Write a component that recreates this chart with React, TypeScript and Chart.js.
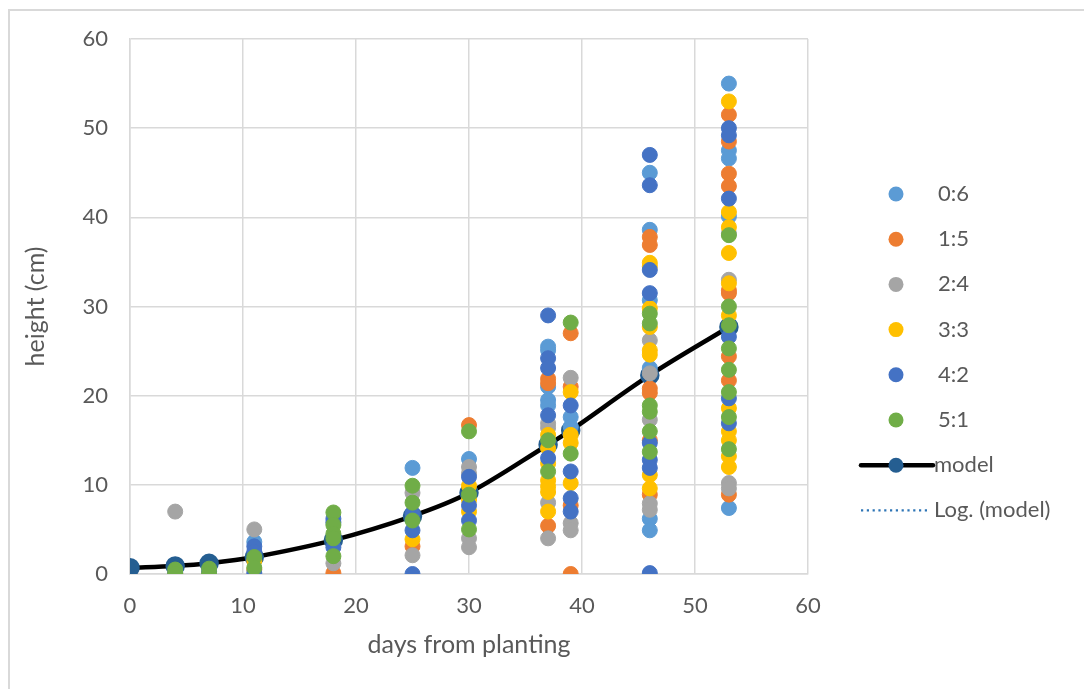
import React, { useEffect, useRef } from "react";
import { Chart, registerables } from "chart.js";

Chart.register(...registerables);

type P = [number, number];

const seriesNames = ["0:6", "1:5", "2:4", "3:3", "4:2", "5:1"];
const seriesColors = ["#5B9BD5", "#ED7D31", "#A5A5A5", "#FFC000", "#4472C4", "#70AD47"];

const s06: P[] = [[4,0],[7,0],[11,3.6],[25,11.9],[30,12.9],[37,25.5],[37,25.1],[37,21.0],[37,19.5],[37,18.9],[39,17.6],[39,16.5],[46,45.0],[46,38.6],[46,30.7],[46,23.1],[46,6.2],[46,4.9],[53,55.0],[53,47.5],[53,46.6],[53,40.1],[53,7.4]];
const s15: P[] = [[4,0],[11,0.5],[18,0.1],[25,3.1],[30,16.7],[37,21.9],[37,21.4],[37,5.4],[39,27.0],[39,21.0],[39,7.7],[39,0],[46,37.8],[46,36.9],[46,20.8],[46,20.3],[46,15.0],[46,8.9],[53,51.5],[53,48.5],[53,44.9],[53,43.5],[53,31.8],[53,31.5],[53,24.4],[53,21.7],[53,8.9]];
const s24: P[] = [[4,7.0],[11,5.0],[18,1.2],[25,9.1],[25,2.1],[30,12.0],[30,11.3],[30,4.0],[30,3.0],[37,16.9],[37,16.4],[37,8.0],[37,4.0],[39,22.0],[39,5.7],[39,4.9],[46,26.2],[46,22.5],[46,17.3],[46,7.9],[46,7.2],[53,38.2],[53,33.0],[53,10.2],[53,9.6]];
const s33: P[] = [[4,0],[7,0],[11,1.5],[25,3.9],[30,9.9],[30,8.3],[30,7.0],[37,15.6],[37,14.1],[37,12.4],[37,10.5],[37,9.8],[37,9.2],[37,7.0],[39,20.4],[39,15.6],[39,14.7],[39,10.2],[46,34.9],[46,34.5],[46,29.8],[46,27.7],[46,25.1],[46,24.6],[46,11.1],[46,9.6],[53,53.0],[53,40.6],[53,38.9],[53,36.0],[53,32.6],[53,29.0],[53,18.6],[53,16.0],[53,15.0],[53,13.2],[53,12.0]];
const s42: P[] = [[4,0.2],[7,0.3],[11,3.1],[11,2.5],[11,0.1],[18,6.2],[18,5.8],[18,3.0],[25,6.8],[25,4.9],[25,0],[30,10.9],[30,7.7],[30,6.0],[37,29.0],[37,24.2],[37,23.1],[37,17.8],[37,13.0],[39,18.9],[39,11.5],[39,8.5],[39,7.0],[46,47.0],[46,43.6],[46,34.1],[46,31.5],[46,14.7],[46,12.8],[46,11.9],[46,0.1],[53,50.0],[53,49.2],[53,42.1],[53,26.6],[53,19.7],[53,16.9]];
const s51: P[] = [[4,0.5],[4,0],[7,0.6],[7,0],[11,1.9],[11,0.7],[18,6.9],[18,5.5],[18,4.5],[18,4.0],[18,2.0],[25,9.9],[25,8.0],[25,6.0],[30,16.0],[30,8.9],[30,5.0],[37,15.0],[37,11.5],[39,28.2],[39,13.5],[46,29.2],[46,28.1],[46,18.9],[46,18.2],[46,16.0],[46,13.7],[53,38.0],[53,30.0],[53,27.9],[53,25.3],[53,22.9],[53,20.4],[53,17.6],[53,14.0]];
const seriesData: P[][] = [s06, s15, s24, s33, s42, s51];

const modelX = [0, 4, 7, 11, 18, 25, 30, 37, 39, 46, 53];
const modelY = [0.7, 0.9, 1.2, 1.9, 3.8, 6.5, 9.1, 14.5, 16.1, 22.3, 27.7];
const modelLabel = "model";
const trendLabel = "Log. (model)";

const xTitle = "days from planting";
const yTitle = "height (cm)";
const axisMin = 0;
const axisMax = 60;
const axisStep = 10;

const FONT = "Lato";
const TEXT = "#595959";
const GRID = "#d9d9d9";
const MODEL_MARKER = "#255E91";
const TREND_COLOR = "#2E75B6";

const legendPlugin = {
  id: "excelLegend",
  afterDraw(chart: any) {
    const ctx: CanvasRenderingContext2D = chart.ctx;
    const left = 861, right = 933, cx = 896, tx = 938, y0 = 194, step = 45.2;
    ctx.save();
    ctx.font = `22px ${FONT}`;
    ctx.textBaseline = "middle";
    ctx.textAlign = "left";
    const items = [...seriesNames, modelLabel, trendLabel];
    items.forEach((label, i) => {
      const y = y0 + i * step;
      if (i < seriesNames.length) {
        ctx.beginPath();
        ctx.arc(cx, y, 7.5, 0, Math.PI * 2);
        ctx.fillStyle = seriesColors[i];
        ctx.fill();
      } else if (label === modelLabel) {
        ctx.beginPath();
        ctx.moveTo(left, y);
        ctx.lineTo(right, y);
        ctx.strokeStyle = "#000";
        ctx.lineWidth = 4.5;
        ctx.lineCap = "round";
        ctx.stroke();
        ctx.beginPath();
        ctx.arc(cx, y, 7.5, 0, Math.PI * 2);
        ctx.fillStyle = MODEL_MARKER;
        ctx.fill();
      } else {
        ctx.beginPath();
        ctx.setLineDash([2.2, 3.6]);
        ctx.moveTo(left, y);
        ctx.lineTo(right - 6, y);
        ctx.strokeStyle = TREND_COLOR;
        ctx.lineWidth = 2.2;
        ctx.lineCap = "butt";
        ctx.stroke();
        ctx.setLineDash([]);
      }
      ctx.fillStyle = TEXT;
      ctx.fillText(label, label === modelLabel || label === trendLabel ? tx - 4 : tx, y);
    });
    ctx.restore();
  },
};

export default function App() {
  const ref = useRef<HTMLCanvasElement | null>(null);
  useEffect(() => {
    if (!ref.current) return;
    const datasets: any[] = seriesData.map((pts, i) => ({
      type: "scatter",
      label: seriesNames[i],
      data: pts.map(([x, y]) => ({ x, y })),
      backgroundColor: seriesColors[i],
      borderColor: seriesColors[i],
      borderWidth: 1,
      pointRadius: 7.5,
      order: seriesNames.length - i,
    }));
    datasets.push({
      type: "line",
      label: modelLabel,
      data: modelX.map((x, i) => ({ x, y: modelY[i] })),
      borderColor: "#000",
      borderWidth: 4.5,
      backgroundColor: MODEL_MARKER,
      pointBackgroundColor: MODEL_MARKER,
      pointBorderColor: MODEL_MARKER,
      pointRadius: 7.5,
      tension: 0.35,
      fill: false,
      order: 10,
    });
    datasets.push({
      type: "line",
      label: trendLabel,
      data: [],
      borderColor: TREND_COLOR,
      borderDash: [2, 3],
      borderWidth: 2,
      pointRadius: 0,
      order: 11,
    });
    const chart = new Chart(ref.current, {
      type: "scatter",
      data: { datasets },
      plugins: [legendPlugin],
      options: {
        animation: false,
        responsive: false,
        devicePixelRatio: 1,
        layout: { padding: { left: 0, top: 39, right: 276, bottom: 0 } },
        plugins: { legend: { display: false }, tooltip: { enabled: false } },
        scales: {
          x: {
            type: "linear",
            min: axisMin,
            max: axisMax,
            afterFit(scale: any) { scale.height = 115; },
            ticks: { stepSize: axisStep, color: TEXT, font: { family: FONT, size: 22 }, padding: 19 },
            grid: { color: GRID, lineWidth: 1.5, drawTicks: false },
            border: { color: GRID, width: 1.5 },
            title: { display: true, text: xTitle, color: TEXT, font: { family: FONT, size: 25 }, padding: { top: 0, bottom: 29 } },
          },
          y: {
            type: "linear",
            min: axisMin,
            max: axisMax,
            afterFit(scale: any) { scale.width = 130; },
            ticks: { stepSize: axisStep, color: TEXT, font: { family: FONT, size: 22 }, padding: 22 },
            grid: { color: GRID, lineWidth: 1.5, drawTicks: false },
            border: { color: GRID, width: 1.5 },
            title: { display: true, text: yTitle, color: TEXT, font: { family: FONT, size: 25 }, padding: { top: 21, bottom: 0 } },
          },
        },
      } as any,
    });
    return () => chart.destroy();
  }, []);
  return (
    <div style={{ position: "fixed", left: 0, top: 0, width: 1084, height: 689, background: "#fff", overflow: "hidden" }}>
      <div style={{ position: "absolute", left: 8, top: 9, width: 1200, height: 800, borderLeft: `2px solid ${GRID}`, borderTop: `2px solid ${GRID}` }} />
      <canvas ref={ref} width={1084} height={689} style={{ position: "absolute", left: 0, top: 0, width: 1084, height: 689 }} />
    </div>
  );
}
